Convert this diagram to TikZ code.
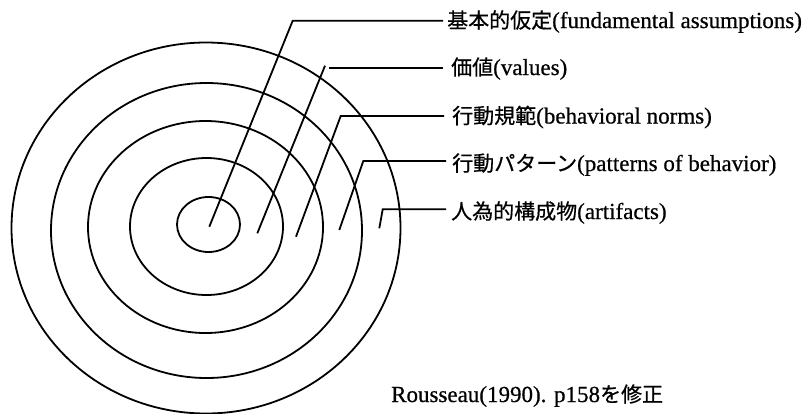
\documentclass[tikz,border=0pt]{standalone}
\usepackage{fontspec}
\setmainfont{Liberation Serif}
\newfontfamily\lblfont{Liberation Serif}[FakeBold=0.6]
\newfontfamily\cjkfont{Noto Sans CJK JP}[FakeBold=0.6]
\newcommand\jptext[1]{{\fontsize{21pt}{25pt}\cjkfont #1}}
\tikzset{
  ring/.style={line width=1.8pt},
  leader/.style={line width=1.8pt, line join=miter},
  lbl/.style={anchor=base west, inner sep=0pt, font=\fontsize{23pt}{27pt}\lblfont},
}
\begin{document}
\begin{tikzpicture}[x=1pt, y=-1pt]
\useasboundingbox (0,0) rectangle (805,413);
% rings
\draw[ring] (208.5,224.5) ellipse [x radius=31.5, y radius=27.5];
\draw[ring] (206.5,226.5) ellipse [x radius=76.5, y radius=68.5];
\draw[ring] (205.5,227) ellipse [x radius=117.5, y radius=106];
\draw[ring] (206.5,230.5) ellipse [x radius=155.5, y radius=147.5];
\draw[ring] (206,228) ellipse [x radius=194.5, y radius=185.5];
% labels
\node[lbl] (l1) at (447,28) {\jptext{基本的仮定}(fundamental assumptions)};
\node[lbl] (l2) at (451,75) {\jptext{価値}(values)};
\node[lbl] (l3) at (452,123.5) {\jptext{行動規範}(behavioral norms)};
\node[lbl] (l4) at (452,171) {\jptext{行動パターン}(patterns of behavior)};
\node[lbl] (l5) at (451,219) {\jptext{人為的構成物}(artifacts)};
\node[lbl] (cap) at (391,402) {Rousseau(1990). p158\jptext{を修正}};
% leader points
\coordinate (b1) at (209.3,226.7);
\coordinate (t1) at (292.7,20.7);
\coordinate (e1) at (443,20.7);
\coordinate (b2) at (257.3,233.3);
\coordinate (t2) at (325,65.7);
\coordinate (h2) at (329,67.7);
\coordinate (e2) at (443,67.7);
\coordinate (b3) at (296,236.7);
\coordinate (t3) at (340.7,116);
\coordinate (e3) at (444,116);
\coordinate (b4) at (339.3,230);
\coordinate (t4) at (363.3,161);
\coordinate (e4) at (446,161);
\coordinate (b5) at (379.3,228.3);
\coordinate (t5) at (382.7,209.3);
\coordinate (e5) at (446,209.3);
% leaders
\draw[leader] (b1) -- (t1) -- (e1);
\draw[leader] (b2) -- (t2);
\draw[leader] (h2) -- (e2);
\draw[leader] (b3) -- (t3) -- (e3);
\draw[leader] (b4) -- (t4) -- (e4);
\draw[leader] (b5) -- (t5) -- (e5);
\end{tikzpicture}
\end{document}
